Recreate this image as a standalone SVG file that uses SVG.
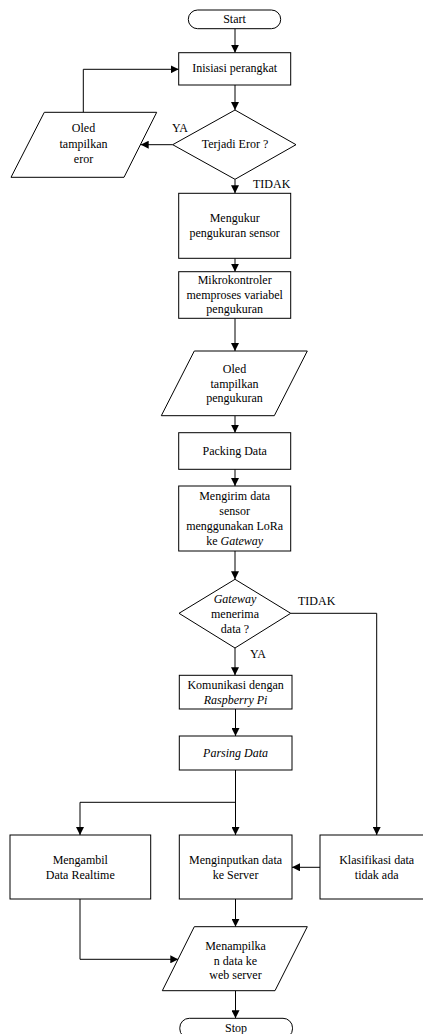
<svg xmlns="http://www.w3.org/2000/svg" width="423" height="1034" viewBox="0 0 423 1034" font-family="Liberation Serif, serif">
<style>
.s{fill:#fff;stroke:#000;stroke-width:1}
text{font-family:"Liberation Serif",serif;font-size:12px;fill:#000}
.t{text-anchor:middle}
.i{font-style:italic}
.c{fill:none;stroke:#000;stroke-width:1}
</style>
<defs>
<marker id="a" markerWidth="8" markerHeight="8" refX="8" refY="4" orient="auto" markerUnits="userSpaceOnUse">
<path d="M0,0 L8,4 L0,8 z" fill="#000"/>
</marker>
</defs>
<rect width="423" height="1034" fill="#fff"/>
<g id="connectors">
<path class="c" d="M235,28.7 V52.7" marker-end="url(#a)"/>
<path class="c" d="M235,85 V110" marker-end="url(#a)"/>
<path class="c" d="M172.7,144.7 H140.7" marker-end="url(#a)"/>
<path class="c" d="M83.3,112.3 V69.3 H178.7" marker-end="url(#a)"/>
<path class="c" d="M235,179.3 V193.3" marker-end="url(#a)"/>
<path class="c" d="M235,258.3 V271.7" marker-end="url(#a)"/>
<path class="c" d="M235,318.3 V351" marker-end="url(#a)"/>
<path class="c" d="M235,415.7 V432.7" marker-end="url(#a)"/>
<path class="c" d="M235,469.3 V486" marker-end="url(#a)"/>
<path class="c" d="M235,551 V579.3" marker-end="url(#a)"/>
<path class="c" d="M235,648 V675.3" marker-end="url(#a)"/>
<path class="c" d="M235.5,709 V736" marker-end="url(#a)"/>
<path class="c" d="M290.7,613.3 H376.7 V835" marker-end="url(#a)"/>
<path class="c" d="M235.5,770 V835" marker-end="url(#a)"/>
<path class="c" d="M235.5,802.3 H80 V835" marker-end="url(#a)"/>
<path class="c" d="M320,867.3 H292" marker-end="url(#a)"/>
<path class="c" d="M235.5,899 V926.7" marker-end="url(#a)"/>
<path class="c" d="M80,899 V959.3 H178.3" marker-end="url(#a)"/>
<path class="c" d="M235.5,990.7 V1018.3" marker-end="url(#a)"/>
<text x="172" y="132">YA</text>
<text x="253" y="188">TIDAK</text>
<text x="298" y="604.5">TIDAK</text>
<text x="250" y="658">YA</text>
</g>
<g id="start">
<rect class="s" x="188.3" y="10" width="92.4" height="18.7" rx="9.3"/>
<text class="t" x="234.5" y="23">Start</text>
</g>
<g id="inisiasi">
<rect class="s" x="178.7" y="52.7" width="112" height="32.3"/>
<text class="t" x="234.7" y="72">Inisiasi perangkat</text>
</g>
<g id="terjadi-eror">
<polygon class="s" points="235,110 296,144.7 235,179.3 172.7,144.7"/>
<text class="t" x="235" y="147.5">Terjadi Eror ?</text>
</g>
<g id="oled-eror">
<polygon class="s" points="44.3,112.3 156.7,112.3 124,177.3 11,177.3"/>
<text class="t" x="83.5" y="132">Oled</text>
<text class="t" x="83.5" y="148">tampilkan</text>
<text class="t" x="83.5" y="163">eror</text>
</g>
<g id="mengukur">
<rect class="s" x="178.7" y="193.3" width="112" height="65"/>
<text class="t" x="234.7" y="222">Mengukur</text>
<text class="t" x="234.7" y="237">pengukuran sensor</text>
</g>
<g id="mikrokontroler">
<rect class="s" x="178.7" y="271.7" width="112" height="46.6"/>
<text class="t" x="234.7" y="284">Mikrokontroler</text>
<text class="t" x="234.7" y="299">memproses variabel</text>
<text class="t" x="234.7" y="313">pengukuran</text>
</g>
<g id="oled-pengukuran">
<polygon class="s" points="194.3,351 307.3,351 274.3,415.7 161.3,415.7"/>
<text class="t" x="234.5" y="373">Oled</text>
<text class="t" x="234.5" y="387.5">tampilkan</text>
<text class="t" x="234.5" y="402">pengukuran</text>
</g>
<g id="packing">
<rect class="s" x="178.7" y="432.7" width="112" height="36.6"/>
<text class="t" x="234.7" y="455">Packing Data</text>
</g>
<g id="mengirim">
<rect class="s" x="178.7" y="486" width="112" height="65"/>
<text class="t" x="234.7" y="500">Mengirim data</text>
<text class="t" x="234.7" y="515">sensor</text>
<text class="t" x="234.7" y="530">menggunakan LoRa</text>
<text class="t" x="234.7" y="544.5">ke <tspan class="i">Gateway</tspan></text>
</g>
<g id="gateway-menerima">
<polygon class="s" points="235,579.3 290.7,613.3 235,648 179,613.3"/>
<text class="t i" x="235" y="603">Gateway</text>
<text class="t" x="235" y="618">menerima</text>
<text class="t" x="235" y="633">data ?</text>
</g>
<g id="komunikasi">
<rect class="s" x="179.3" y="675.3" width="112.7" height="33.7"/>
<text class="t" x="235.6" y="689">Komunikasi dengan</text>
<text class="t i" x="235.6" y="704">Raspberry Pi</text>
</g>
<g id="parsing">
<rect class="s" x="179.3" y="736" width="112.7" height="34"/>
<text class="t i" x="235.6" y="757">Parsing Data</text>
</g>
<g id="mengambil">
<rect class="s" x="10" y="835" width="140.7" height="64"/>
<text class="t" x="80.3" y="864">Mengambil</text>
<text class="t" x="80.3" y="879">Data Realtime</text>
</g>
<g id="menginputkan">
<rect class="s" x="179.3" y="835" width="112.7" height="64"/>
<text class="t" x="235.6" y="864">Menginputkan data</text>
<text class="t" x="235.6" y="879">ke Server</text>
</g>
<g id="klasifikasi">
<rect class="s" x="320" y="835" width="113" height="64"/>
<text class="t" x="376.7" y="864">Klasifikasi data</text>
<text class="t" x="376.7" y="879">tidak ada</text>
</g>
<g id="menampilkan">
<polygon class="s" points="194.3,926.7 307.3,926.7 275,990.7 162.3,990.7"/>
<text class="t" x="235.5" y="950">Menampilka</text>
<text class="t" x="235.5" y="965">n data ke</text>
<text class="t" x="235.5" y="979">web server</text>
</g>
<g id="stop">
<rect class="s" x="179.8" y="1018.3" width="112.7" height="20" rx="9.5"/>
<text class="t" x="236" y="1032">Stop</text>
</g>
</svg>
